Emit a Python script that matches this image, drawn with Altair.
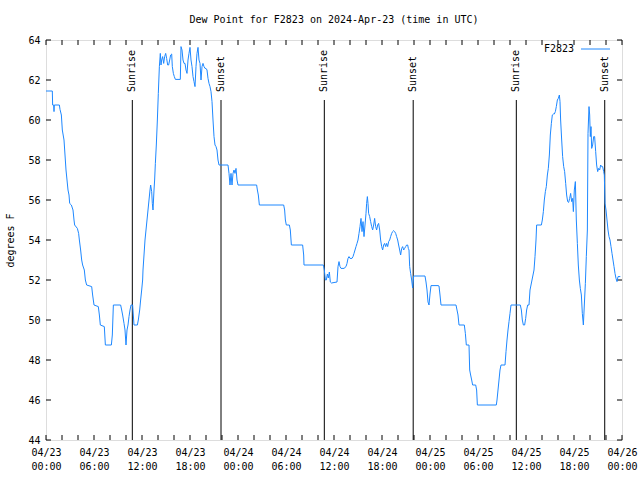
import altair as alt
import pandas as pd

FONT = "DejaVu Sans Mono"
LINE_COLOR = "#1e88ff"
START = pd.Timestamp("2024-04-23T00:00:00Z")

title_text = "Dew Point for F2823 on 2024-Apr-23 (time in UTC)"
series_name = "F2823"
y_title = "degrees F"

# hours since 2024-04-23 00:00 UTC, dew point (F)
hours = [
    0.0, 0.79, 0.83, 0.96, 1.0, 1.04, 1.67, 1.75, 1.92, 2.04, 2.25, 2.375, 2.5, 2.625, 2.75,
    2.875, 2.96, 3.17, 3.375, 3.5, 3.58, 3.92, 4.08, 4.17, 4.33, 4.46, 4.58, 4.79, 4.92, 5.08,
    5.71, 5.83, 6.0, 6.54, 6.67, 6.79, 7.29, 7.42, 8.17, 8.29, 8.42, 9.33, 9.46, 9.58, 9.75,
    9.875, 10.0, 10.125, 10.25, 10.375, 10.5, 10.625, 10.83, 11.0, 11.42, 11.54, 11.71, 11.83,
    11.96, 12.08,
    12.125, 12.25, 12.375, 12.5, 12.625, 12.75, 12.875, 13.0, 13.08, 13.21, 13.29, 13.375, 13.5,
    13.58, 13.67, 13.79, 13.92, 14.04, 14.17, 14.29, 14.375, 14.46, 14.58, 14.71, 14.83, 14.96,
    15.08, 15.21, 15.33, 15.46, 15.58, 15.71, 15.79, 15.92, 16.04, 16.17, 16.79, 16.875, 17.0,
    17.125, 17.25, 17.375, 17.5, 17.625, 17.75, 17.875, 18.0, 18.125, 18.25, 18.375, 18.5,
    18.625, 18.75, 18.875, 19.0, 19.125, 19.25, 19.375, 19.5, 19.625, 19.75, 19.875, 20.0,
    20.125, 20.25, 20.375, 20.5, 20.625, 20.75, 20.875, 21.0, 21.125, 21.25, 21.375, 21.5,
    21.625, 22.75, 22.875, 23.0, 23.125, 23.25, 23.375, 23.5, 23.625, 23.75, 23.875, 24.0,
    26.33, 26.42, 26.54, 26.67, 29.71, 29.83, 29.92, 30.04, 30.42, 30.54, 30.67, 32.08, 32.21,
    32.25, 34.67, 34.79, 34.92, 35.04, 35.17, 35.29, 35.42, 35.54, 35.67, 36.375,
    36.5, 36.625, 36.75, 36.875, 37.25, 37.5, 37.625, 37.75, 37.875, 38.0, 38.25, 38.375, 38.5,
    38.625, 38.75, 38.875, 39.0, 39.125, 39.25, 39.375, 39.5, 39.625, 39.75, 39.875, 40.0, 40.08,
    40.17, 40.25, 40.33, 40.46, 40.58, 40.71, 40.83, 40.96, 41.08, 41.21, 41.33, 41.46, 41.58,
    41.71, 41.83, 41.96, 42.08, 42.21, 42.33, 42.46, 42.58, 42.71, 42.83, 42.96, 43.08, 43.21,
    43.33, 43.46, 43.58, 43.71, 43.83, 43.96, 44.08, 44.21, 44.33, 44.46, 44.58, 44.71, 44.83,
    44.96, 45.08, 45.21, 45.29, 45.375, 45.46, 45.58, 45.71, 45.83, 45.96, 46.08, 47.375, 47.5,
    47.625, 47.75, 47.875, 48.0, 48.125, 49.0, 49.125, 49.25, 49.375, 51.25, 51.375, 51.5,
    51.625, 52.29, 52.42, 52.54, 52.875, 52.96, 53.08, 53.21, 53.33, 53.71, 53.83, 53.92, 56.29,
    56.375, 56.5, 56.625, 56.75, 56.875, 57.375, 57.5, 57.625, 57.75, 57.875, 58.0, 58.125,
    59.29, 59.42, 59.54, 59.67, 59.83, 59.96, 60.08, 60.21,
    60.375, 60.5, 60.625, 60.75, 60.875, 61.0, 61.125, 61.25, 61.33, 61.92, 62.04, 62.17, 62.29,
    62.42, 62.54, 62.67, 62.79, 62.92, 63.04, 63.17, 63.29, 63.42, 63.54, 63.67, 63.79, 63.92,
    64.04, 64.17, 64.25, 64.33, 64.46, 64.58, 64.71, 64.83, 64.96, 65.08, 65.21, 65.33, 65.46,
    65.58, 65.71, 65.83, 65.92, 66.04, 66.17, 66.29, 66.42, 66.54, 66.67, 66.79, 66.92, 67.04,
    67.17, 67.29, 67.42, 67.54, 67.67, 67.75, 67.875, 67.96, 68.04, 68.125, 68.21, 68.33, 68.46,
    68.58, 68.71, 68.83, 68.96, 69.08, 69.21, 69.33, 69.46, 69.58, 69.71, 69.79, 69.875, 70.0,
    70.125, 70.25, 70.375, 70.5, 70.625, 70.75, 70.875, 71.0, 71.125, 71.25, 71.375, 71.5, 71.79,
]
dew_point = [
    61.45, 61.45, 60.75, 60.75, 60.42, 60.75, 60.75, 60.53, 60.25, 59.5, 59.0, 58.25, 57.5, 57.0, 56.5,
    56.25, 55.83, 55.75, 55.5, 55.0, 54.75, 54.58, 54.33, 54.0, 53.5, 53.0, 52.75, 52.5, 52.0, 51.75,
    51.67, 51.25, 50.75, 50.67, 50.25, 49.75, 49.67, 48.75, 48.75, 49.25, 50.75, 50.75, 50.5, 50.25, 49.83,
    49.5, 48.75, 49.5, 49.75, 50.17, 50.5, 50.75, 50.75, 49.75, 49.75, 50.0, 50.5, 51.0,
    51.5, 52.0,
    52.5, 53.25, 54.0, 54.5, 55.0, 55.5, 56.0, 56.5, 56.75, 56.42, 55.83, 55.5, 56.5,
    57.0, 57.83, 58.75, 60.0, 61.33, 62.67, 63.33, 62.75, 63.0, 63.17, 62.83, 63.17, 63.33,
    63.08, 62.75, 62.75, 63.0, 63.25, 63.3, 62.67, 62.33, 62.17, 62.03, 62.03, 63.67, 63.5,
    63.0, 62.83, 62.83, 62.5, 62.33, 63.0, 63.33, 63.63, 63.0, 62.67, 62.17, 61.92,
    61.67, 62.67, 63.33, 63.63, 63.0, 62.83, 62.0, 62.67, 62.83, 62.67, 62.58, 62.58,
    62.5, 62.08, 61.83, 61.67, 61.42, 60.92, 60.0, 59.17, 58.75, 58.67, 58.5, 58.0,
    57.75, 57.75, 57.33, 56.75, 57.33, 56.75, 57.33, 57.5, 57.33, 57.58, 57.0, 56.75,
    56.75, 56.5, 56.25, 55.75, 55.75, 55.5, 55.0, 54.75, 54.75, 54.5, 53.75, 53.75, 53.25,
    52.75, 52.75, 52.5, 52.0, 52.0, 52.3, 52.1, 52.4, 51.9, 51.85, 51.9,
    52.67, 52.92, 52.67, 52.58, 52.58, 52.67, 52.83, 53.08, 53.17, 53.08, 53.08, 53.17, 53.33,
    53.5, 53.67, 53.83, 54.0, 54.33, 54.67, 55.08, 54.42, 54.92, 54.17, 54.75, 55.33, 55.83,
    56.17, 55.83, 55.33, 55.17, 54.92, 54.67, 54.5, 54.75, 55.08, 54.67, 54.5, 54.75, 54.83,
    54.5, 54.0, 53.67, 53.5, 53.75, 53.83, 53.67, 53.83, 53.67, 53.92, 54.0, 54.17, 54.33,
    54.42, 54.47, 54.42, 54.33, 54.17, 54.0, 53.75, 53.5, 53.25, 53.58, 53.67, 53.5, 53.58,
    53.67, 53.75, 53.75, 53.58, 53.5, 52.67, 52.33, 52.0, 51.6, 52.2, 52.2, 52.2, 51.9,
    51.5, 50.9, 50.75, 51.3, 51.72, 51.72, 51.7, 51.25, 50.75, 50.75, 50.5, 50.25,
    49.75, 49.75, 49.33, 48.75, 48.75, 47.5, 47.25, 47.0, 46.75, 46.75, 46.5, 45.75, 45.75,
    46.0, 46.5, 47.0, 47.5, 47.75, 47.75, 48.42, 49.0, 49.5, 49.92, 50.33, 50.75,
    50.75, 50.5, 50.0, 49.75, 49.75, 50.08, 50.5, 50.75,
    50.75, 51.5, 51.75, 52.0, 52.25, 52.5, 53.17, 54.0, 54.75, 54.75, 55.0, 55.42, 56.0,
    56.42, 56.67, 57.25, 57.58, 58.25, 59.25, 59.83, 60.25, 60.3, 60.3, 60.42, 60.67, 61.0,
    61.08, 61.25, 60.92, 60.0, 59.0, 58.17, 57.67, 57.42, 56.83, 56.25, 55.92, 55.88, 56.08,
    56.33, 55.92, 56.08, 55.42, 56.5, 56.92, 55.0, 53.83, 52.75, 52.0, 51.58, 51.25, 50.33,
    49.75, 50.75, 51.83, 53.17, 54.5, 59.33, 60.67, 60.25, 59.17, 59.67, 58.58, 58.75, 59.17,
    59.17, 58.42, 57.75, 57.42, 57.58, 57.5, 57.75, 57.67, 57.67, 57.42, 57.25, 55.83, 55.5,
    55.0, 54.5, 54.17, 54.0, 53.67, 53.33, 53.0, 52.67, 52.33, 52.08, 51.92, 52.17, 52.17,
]

# Sunrise / sunset events (hours since start)
event_names = ["Sunrise", "Sunset", "Sunrise", "Sunset", "Sunrise", "Sunset"]
event_hours = [10.79, 21.875, 34.79, 45.9, 58.79, 69.84]
event_line_top = 61.0
event_label_start = 61.4

x_label_hours = [0, 6, 12, 18, 24, 30, 36, 42, 48, 54, 60, 66, 72]
x_tick_hours = list(range(0, 73, 2))
y_ticks = [44, 46, 48, 50, 52, 54, 56, 58, 60, 62, 64]


def to_ms(hs):
    return [int((START + pd.Timedelta(hours=h)).value // 10**6) for h in hs]


W, H = 576, 400
TICK = 5

x_scale = alt.Scale(type="utc", domain=to_ms([0, 72]), nice=False)
y_scale = alt.Scale(domain=[44, 64], nice=False, zero=False)

x_axis = alt.Axis(
    values=to_ms(x_label_hours),
    labelExpr="[utcFormat(datum.value, '%m/%d'), utcFormat(datum.value, '%H:%M')]",
    ticks=False, domain=False, grid=False, title=None,
    labelFont=FONT, labelFontSize=10, labelColor="black",
    labelPadding=7, labelLineHeight=14, labelFlush=False, labelOverlap=False,
)
y_axis = alt.Axis(
    values=y_ticks, ticks=False, domain=False, grid=False,
    title=y_title, titleFont=FONT, titleFontSize=10, titleFontWeight="normal",
    titleColor="black", titleAngle=270, titleX=-36, titleY=H / 2,
    titleAlign="center", titleBaseline="middle",
    labelFont=FONT, labelFontSize=10, labelColor="black", labelPadding=6,
)


def X(field):
    return alt.X(field, type="temporal", scale=x_scale, axis=x_axis)


def Y(field):
    return alt.Y(field, type="quantitative", scale=y_scale, axis=y_axis)


data = pd.DataFrame({"t": to_ms(hours), "v": dew_point})
events = pd.DataFrame({
    "t": to_ms(event_hours),
    "name": event_names,
    "v": [event_line_top] * len(event_hours),
    "v2": [44] * len(event_hours),
    "lv": [event_label_start] * len(event_hours),
})
xt = pd.DataFrame({"t": to_ms(x_tick_hours)})
yt = pd.DataFrame({"v": y_ticks})

line = alt.Chart(data).mark_line(color=LINE_COLOR, strokeWidth=1, interpolate="linear").encode(
    x=X("t"), y=Y("v")
)
sun_rules = alt.Chart(events).mark_rule(color="black", strokeWidth=1).encode(
    x=X("t"), y=Y("v"), y2="v2"
)
sun_text = alt.Chart(events).mark_text(
    angle=270, align="left", baseline="middle", font=FONT, fontSize=10, color="black"
).encode(x=X("t"), y=Y("lv"), text="name:N")

bottom_ticks = alt.Chart(xt).mark_rule(color="black", strokeWidth=1).encode(
    x=X("t"), y=alt.value(H), y2=alt.value(H - TICK)
)
top_ticks = alt.Chart(xt).mark_rule(color="black", strokeWidth=1).encode(
    x=X("t"), y=alt.value(0), y2=alt.value(TICK)
)
left_ticks = alt.Chart(yt).mark_rule(color="black", strokeWidth=1).encode(
    y=Y("v"), x=alt.value(0), x2=alt.value(TICK)
)
right_ticks = alt.Chart(yt).mark_rule(color="black", strokeWidth=1).encode(
    y=Y("v"), x=alt.value(W), x2=alt.value(W - TICK)
)

legend_text = alt.Chart(pd.DataFrame({"name": [series_name]})).mark_text(
    align="right", baseline="middle", font=FONT, fontSize=10, color="black"
).encode(x=alt.value(528), y=alt.value(9), text="name:N")
legend_line = alt.Chart(pd.DataFrame({"name": [series_name]})).mark_rule(
    color=LINE_COLOR, strokeWidth=1
).encode(x=alt.value(535), x2=alt.value(564), y=alt.value(9))

chart = alt.layer(
    bottom_ticks, top_ticks, left_ticks, right_ticks,
    sun_rules, sun_text, line, legend_text, legend_line,
).properties(
    width=W, height=H,
    autosize=alt.AutoSizeParams(type="none"),
    padding={"left": 46, "top": 40, "right": 18, "bottom": 40},
    title=alt.TitleParams(
        title_text, font=FONT, fontSize=10, fontWeight="normal", color="black",
        anchor="middle", baseline="middle", offset=5,
    ),
).configure_view(
    stroke="black", strokeWidth=1
).configure(
    background="white"
)

chart.save("out.html", embed_options={"renderer": "svg", "actions": False})
